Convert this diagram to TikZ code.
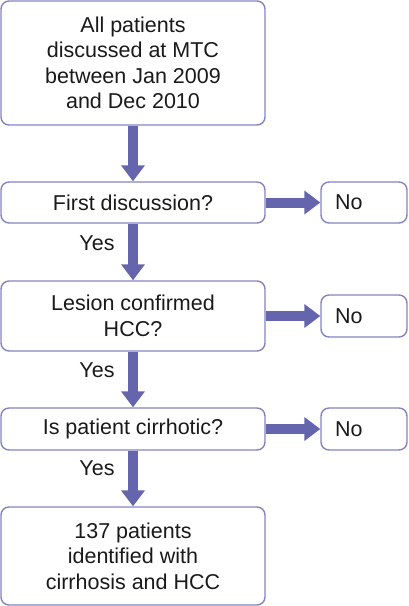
\documentclass[tikz,border=0pt]{standalone}
\usepackage{fontspec}
\setmainfont{Liberation Sans}
\usetikzlibrary{arrows.meta}
\definecolor{boxline}{HTML}{8383C2}
\definecolor{arrowfill}{HTML}{6565AD}
\definecolor{txt}{HTML}{1A1A1A}
\tikzset{
  flowbox/.style={draw=boxline, line width=1.4pt, rounded corners=8pt, fill=white,
    inner sep=0pt, align=center, text=txt,
    font=\fontsize{21.5pt}{25.5pt}\selectfont},
  bigarrow/.style={draw=arrowfill, line width=10pt,
    -{Triangle[width=23pt,length=16pt]}, arrowfill},
  lbl/.style={text=txt, font=\fontsize{21.5pt}{25pt}\selectfont, inner sep=0pt}
}
\begin{document}
\begin{tikzpicture}[x=1pt,y=1pt]
\useasboundingbox (0,0) rectangle (408,-606);
\node[flowbox, minimum width=264pt, minimum height=124pt] (b1) at (133,-63)
  {All patients\\discussed at MTC\\between Jan 2009\\and Dec 2010};
\node[flowbox, minimum width=264pt, minimum height=41pt] (b2) at (133,-202.5)
  {First discussion?};
\node[flowbox, minimum width=86pt, minimum height=41pt, text width=58pt, align=left] (n1) at (364,-202.5)
  {No};
\node[flowbox, minimum width=264pt, minimum height=70pt] (b3) at (133,-316)
  {Lesion confirmed\\HCC?};
\node[flowbox, minimum width=86pt, minimum height=42pt, text width=58pt, align=left] (n2) at (364,-316)
  {No};
\node[flowbox, minimum width=264pt, minimum height=42pt] (b4) at (133,-429)
  {Is patient cirrhotic?};
\node[flowbox, minimum width=86pt, minimum height=42pt, text width=58pt, align=left] (n3) at (364,-429)
  {No};
\node[flowbox, minimum width=264pt, minimum height=98pt] (b5) at (133,-556)
  {137 patients\\identified with\\cirrhosis and HCC};
\draw[bigarrow] (b1.south) -- (b2.north);
\draw[bigarrow] (b2.south) -- (b3.north);
\draw[bigarrow] (b3.south) -- (b4.north);
\draw[bigarrow] (b4.south) -- (b5.north);
\draw[bigarrow] (b2.east) -- (n1.west);
\draw[bigarrow] (b3.east) -- (n2.west);
\draw[bigarrow] (b4.east) -- (n3.west);
\node[lbl] (y1) at (97,-243) {Yes};
\node[lbl] (y2) at (97,-370) {Yes};
\node[lbl] (y3) at (97,-468) {Yes};
\end{tikzpicture}
\end{document}
